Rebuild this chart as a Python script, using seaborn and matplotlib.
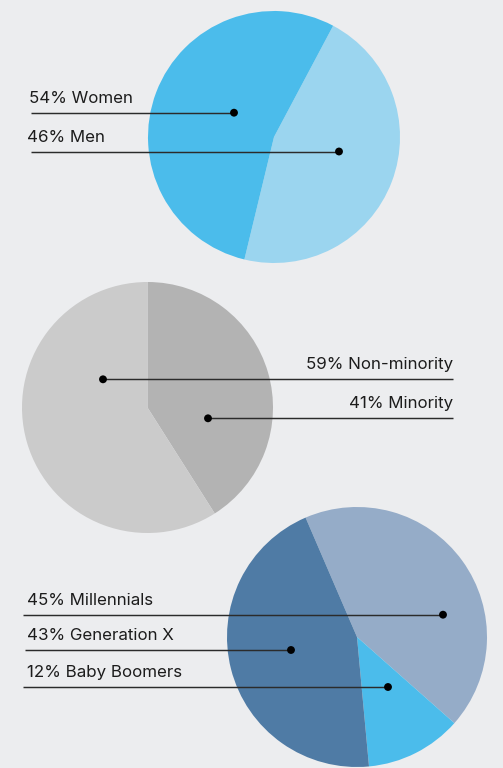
import matplotlib
matplotlib.use("Agg")
import matplotlib.pyplot as plt
import seaborn as sns
import pandas as pd

# ---- data ----
gender_labels = ["Men", "Women"]
gender_pct = [46, 54]
gender_colors = ["#9BD5EF", "#4BBCEB"]

minority_labels = ["Minority", "Non-minority"]
minority_pct = [41, 59]
minority_colors = ["#B3B3B3", "#CBCBCB"]

generation_labels = ["Millennials", "Generation X", "Baby Boomers"]
generation_pct = [45, 43, 12]
# wedge shares as drawn in the picture (clockwise: light, boomers, dark)
generation_wedge = [43, 12, 45]
generation_wedge_colors = ["#95ACC8", "#4BBCEB", "#4F7BA5"]

BG = "#ECEDEF"
W, H = 503, 768

sns.set_theme(style="white")
plt.rcParams["font.family"] = ["Inter", "DejaVu Sans"]

fig = plt.figure(figsize=(W / 100, H / 100), dpi=100, facecolor=BG)
ax = fig.add_axes([0, 0, 1, 1])
ax.set_facecolor(BG)

def Y(py):
    return H - py

# pies: center (px), radius (px), start angle (deg ccw from +x)
ax.pie(gender_pct, colors=gender_colors, center=(274, Y(137)), radius=126,
       startangle=62, counterclock=False, wedgeprops=dict(linewidth=0))
ax.pie(minority_pct, colors=minority_colors, center=(147.5, Y(407.5)), radius=125.5,
       startangle=90, counterclock=False, wedgeprops=dict(linewidth=0))
ax.pie(generation_wedge, colors=generation_wedge_colors, center=(357, Y(637)), radius=130,
       startangle=113.3, counterclock=False, wedgeprops=dict(linewidth=0))

ax.set_xlim(0, W)
ax.set_ylim(0, H)
ax.set_aspect("equal")
ax.axis("off")

LINE = "#2b2b2b"
TXT = "#1c1c1c"
FS = 12.2

# leader lines: (label, x_text, text_ha, baseline_y, line_y, x_start, dot_x)
leaders = [
    (f"{gender_pct[1]}% {gender_labels[1]}", 29, "left", 103.3, 112.7, 30.7, 234),
    (f"{gender_pct[0]}% {gender_labels[0]}", 27, "left", 142.5, 151.5, 30.7, 339),
    (f"{minority_pct[1]}% {minority_labels[1]}", 453, "right", 369.3, 379.3, 453, 103),
    (f"{minority_pct[0]}% {minority_labels[0]}", 453, "right", 408.3, 418.3, 453, 208),
    (f"{generation_pct[0]}% {generation_labels[0]}", 27, "left", 605, 614.7, 23, 443),
    (f"{generation_pct[1]}% {generation_labels[1]}", 27, "left", 640, 650, 25, 291),
    (f"{generation_pct[2]}% {generation_labels[2]}", 27, "left", 676.7, 687, 23, 388),
]

dots = []
for lab, xt, ha, by, ly, xs, dx in leaders:
    ax.plot([xs, dx], [Y(ly), Y(ly)], color=LINE, lw=1.05, solid_capstyle="butt", zorder=3)
    ax.text(xt, Y(by), lab, ha=ha, va="baseline", fontsize=FS, color=TXT, zorder=4)
    dots.append({"x": dx, "y": Y(ly)})

dots_df = pd.DataFrame(dots)
sns.scatterplot(data=dots_df, x="x", y="y", ax=ax, color="#000000", s=32,
                edgecolor="none", zorder=5, legend=False)
ax.set_xlim(0, W)
ax.set_ylim(0, H)
ax.axis("off")

fig.savefig("out.png", dpi=100, facecolor=BG)
